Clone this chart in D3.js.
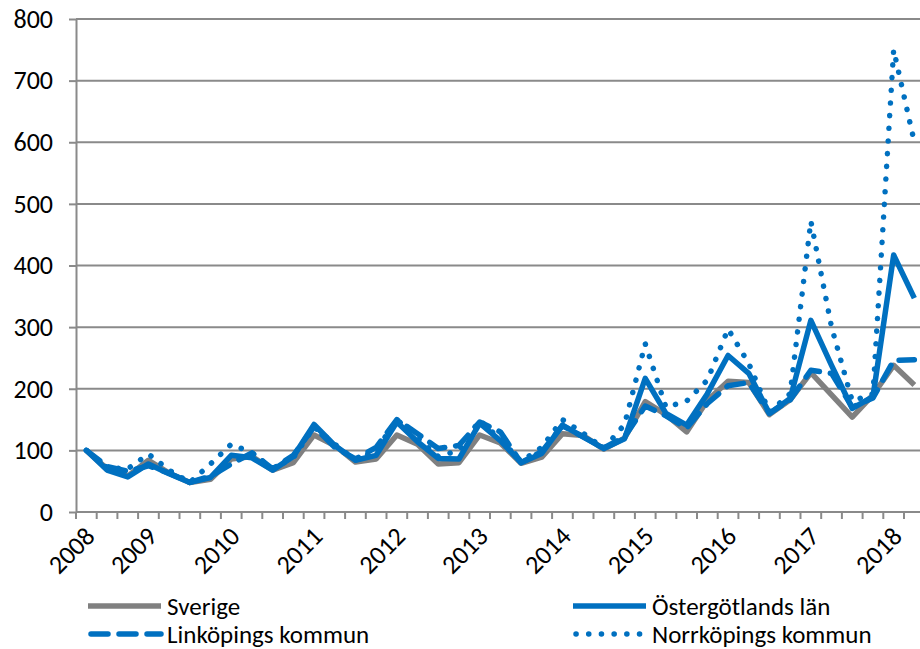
<!DOCTYPE html>
<meta charset="utf-8">
<title>Index 2008-2018</title>
<style>
  body { margin: 0; background: #fff; }
  text { font-family: Calibri, Carlito, "Liberation Sans", Arial, sans-serif; fill: #000; }
  .grid line { stroke: #8a8a8a; stroke-width: 2px; }
  .axis path, .axis line { stroke: #8a8a8a; stroke-width: 2px; }
  .series { fill: none; stroke-linejoin: round; }
</style>
<body>
<script src="https://cdnjs.cloudflare.com/ajax/libs/d3/7.8.5/d3.min.js"></script>
<script>

var width = 920,
    height = 649;

// quarters 2008 K2 .. 2018 K2
var quarters = [];
for (var yr = 2008; yr <= 2018; yr++) {
  for (var q = 1; q <= 4; q++) {
    if (yr == 2008 && q == 1) continue;
    if (yr == 2018 && q > 2) continue;
    quarters.push(yr + " K" + q);
  }
}

var yTicks = [0, 100, 200, 300, 400, 500, 600, 700, 800];

var sverige = [100, 70, 58, 84, 63, 48, 53, 86, 90, 68, 80, 125, 108, 81, 86, 125, 110, 78, 80, 125,
  112, 79, 89, 127, 124, 102, 120, 179, 158, 130, 181, 212, 210, 158, 182, 226, 190, 154, 190, 238, 206];
var ostergotland = [100, 68, 57, 78, 62, 48, 56, 92, 88, 68, 90, 142, 108, 84, 92, 146, 114, 87, 86, 144,
  116, 80, 95, 141, 122, 103, 119, 217, 160, 141, 192, 254, 225, 160, 184, 311, 238, 168, 187, 417, 347];
var linkoping = [100, 74, 66, 75, 63, 48, 58, 78, 96, 70, 92, 138, 105, 86, 105, 150, 127, 103, 108, 146,
  130, 80, 98, 140, 122, 104, 122, 172, 156, 136, 176, 205, 210, 160, 182, 230, 225, 170, 185, 246, 247];
var norrkoping = [100, 72, 70, 94, 68, 48, 78, 110, 96, 70, 88, 138, 110, 84, 100, 150, 120, 90, 100, 149,
  118, 82, 105, 150, 128, 103, 142, 273, 170, 180, 214, 297, 241, 162, 192, 472, 300, 180, 192, 750, 600];

var seriesNames = ["Sverige", "Östergötlands län", "Linköpings kommun", "Norrköpings kommun"];
var seriesData = [sverige, ostergotland, linkoping, norrkoping];
var seriesStyle = [
  {color: "#808080", dash: null, cap: "butt"},
  {color: "#0070c0", dash: null, cap: "butt"},
  {color: "#0070c0", dash: "17 11", cap: "round"},
  {color: "#0070c0", dash: "0.1 12.6", cap: "round"}
];

var plotLeft = 76, plotTop = 19, plotBottom = 512;

var svg = d3.select("body").append("svg")
  .attr("width", width)
  .attr("height", height);

var x = d3.scaleBand()
  .domain(quarters)
  .range([plotLeft, plotLeft + quarters.length * 20.7]);

var y = d3.scaleLinear()
  .domain([0, 800])
  .range([plotBottom, plotTop]);

// horizontal grid
svg.append("g").attr("class", "grid")
  .selectAll("line").data(yTicks.slice(1)).enter().append("line")
  .attr("x1", plotLeft).attr("x2", width)
  .attr("y1", function(d) { return y(d); })
  .attr("y2", function(d) { return y(d); });

var yAxis = svg.append("g").attr("class", "axis")
  .attr("transform", "translate(" + plotLeft + ",0)")
  .call(d3.axisLeft(y).tickValues(yTicks).tickSize(7).tickSizeOuter(0).tickPadding(16));
yAxis.selectAll("text").style("font-size", "26px");

var xAxis = svg.append("g").attr("class", "axis")
  .attr("transform", "translate(0," + plotBottom + ")")
  .call(d3.axisBottom(x).tickSize(0).tickSizeOuter(0).tickFormat(function(d, i) {
    return (i == 0 || d.slice(-2) == "K1") ? d.slice(0, 4) : "";
  }));
xAxis.select(".domain").attr("d", "M" + plotLeft + ",0H" + width);
xAxis.selectAll("text")
  .style("font-size", "26px")
  .attr("text-anchor", "end")
  .attr("y", 0).attr("dy", 0)
  .attr("transform", "translate(10,26) rotate(-45)");

// tick marks between categories
xAxis.selectAll(".cat-tick").data(quarters).enter().append("line")
  .attr("class", "cat-tick")
  .attr("x1", function(d) { return x(d); })
  .attr("x2", function(d) { return x(d); })
  .attr("y1", 0).attr("y2", 7);

var line = d3.line()
  .x(function(d, i) { return x(quarters[i]) + x.bandwidth() / 2; })
  .y(function(d) { return y(d); });

seriesData.forEach(function(s, k) {
  var st = seriesStyle[k];
  svg.append("path")
    .attr("class", "series")
    .attr("d", line(s))
    .attr("stroke", st.color)
    .attr("stroke-width", 5.5)
    .attr("stroke-linecap", st.cap)
    .attr("stroke-dasharray", st.dash);
});

// legend
var legendPos = [[88, 606], [573, 606], [88, 634], [573, 634]];
var legend = svg.append("g");
seriesNames.forEach(function(name, k) {
  var st = seriesStyle[k];
  var p = legendPos[k];
  legend.append("line")
    .attr("x1", p[0] + (st.cap == "round" ? 3 : 0)).attr("x2", p[0] + 73)
    .attr("y1", p[1]).attr("y2", p[1])
    .attr("stroke", st.color)
    .attr("stroke-width", 5.5)
    .attr("stroke-linecap", st.cap)
    .attr("stroke-dasharray", st.dash);
  legend.append("text")
    .attr("x", p[0] + 79).attr("y", p[1])
    .attr("dy", "0.35em")
    .style("font-size", "25px")
    .text(name);
});

</script>
</body>
